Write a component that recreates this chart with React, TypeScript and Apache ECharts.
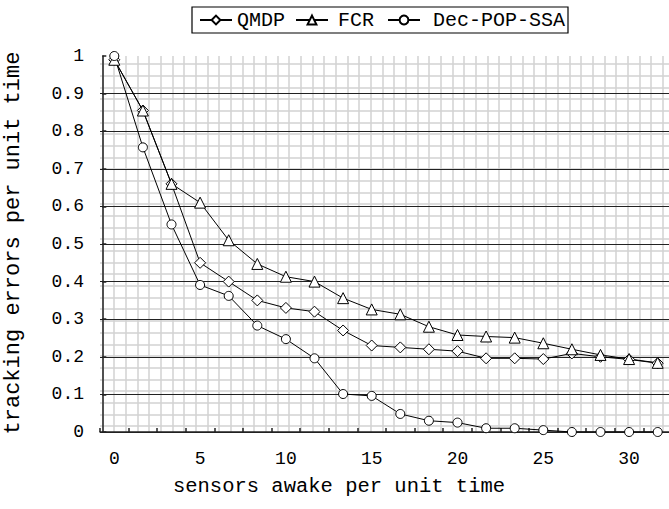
import React, { useEffect, useRef } from "react";
import * as echarts from "echarts";

const sensorsAwake = ["0", "1.67", "3.33", "5", "6.67", "8.33", "10", "11.67", "13.33", "15", "16.67", "18.33", "20", "21.67", "23.33", "25", "26.67", "28.33", "30", "31.67"];
const qmdp = [0.99, 0.855, 0.66, 0.45, 0.40, 0.35, 0.33, 0.32, 0.27, 0.23, 0.225, 0.22, 0.215, 0.196, 0.196, 0.194, 0.209, 0.2, 0.193, 0.183];
const fcr = [0.99, 0.855, 0.66, 0.61, 0.51, 0.447, 0.413, 0.4, 0.356, 0.326, 0.313, 0.28, 0.258, 0.254, 0.251, 0.236, 0.22, 0.205, 0.194, 0.184];
const decPopSsa = [1.0, 0.757, 0.552, 0.391, 0.362, 0.283, 0.247, 0.196, 0.101, 0.096, 0.048, 0.03, 0.025, 0.01, 0.01, 0.005, 0, 0, 0, 0];
const seriesNames = ["QMDP", "FCR", "Dec-POP-SSA"];
const yTicks = { min: 0, max: 1, interval: 0.1 };

const FONT = "'Liberation Mono', 'Courier New', monospace";

export default function App() {
  const ref = useRef<HTMLDivElement>(null);
  useEffect(() => {
    if (!ref.current) return;
    const chart = echarts.init(ref.current, null, { renderer: "svg" });
    const mk = (name: string, data: number[], symbol: string, size: number) => ({
      name,
      type: "line",
      xAxisIndex: 0,
      yAxisIndex: 0,
      data,
      symbol,
      symbolSize: size,
      showAllSymbol: true,
      z: 5,
      lineStyle: { color: "#000", width: 1 },
      itemStyle: { color: "#fff", borderColor: "#000", borderWidth: 1 },
    });
    const legendBase = {
      top: 10,
      padding: 0,
      itemWidth: 32,
      itemHeight: 11,
      textStyle: { fontFamily: FONT, fontSize: 20, color: "#000" },
    };
    chart.setOption({
      animation: false,
      backgroundColor: "#fff",
      legend: [
        { ...legendBase, left: 199, data: [seriesNames[0]] },
        { ...legendBase, left: 295, data: [seriesNames[1]], textStyle: { ...legendBase.textStyle, padding: [0, 0, 0, 5] } },
        { ...legendBase, left: 387, data: [seriesNames[2]], textStyle: { ...legendBase.textStyle, padding: [0, 0, 0, 8] } },
      ],
      grid: { left: 100, top: 56, right: -3, bottom: 77, outerBoundsMode: "none", containLabel: false },
      xAxis: [
        {
          type: "category",
          data: sensorsAwake,
          boundaryGap: true,
          z: 2,
          axisLine: { show: true, lineStyle: { color: "#222", width: 1.5 } },
          axisTick: { show: true, inside: true, length: 4, interval: 0, lineStyle: { color: "#222", width: 1.5 } },
          axisLabel: {
            interval: 2,
            margin: 18,
            fontFamily: FONT,
            fontSize: 18,
            color: "#000",
            formatter: (v: string) => String(Math.round(Number(v))),
          },
          splitLine: { show: false },
        },
        {
          type: "value",
          position: "top",
          min: -0.197,
          max: 48.8,
          splitNumber: 49,
          z: 0,
          axisLine: { show: false },
          axisTick: { show: false },
          axisLabel: { show: false },
          splitLine: { show: true, showMinLine: false, showMaxLine: false, lineStyle: { color: "#d2d2d2", width: 1.5 } },
        },
      ],
      yAxis: [
        {
          type: "value",
          min: yTicks.min,
          max: yTicks.max,
          interval: yTicks.interval,
          z: 2,
          axisLine: { show: true, lineStyle: { color: "#222", width: 1.5 } },
          axisTick: { show: true, inside: true, length: 4, lineStyle: { color: "#222", width: 1.5 } },
          axisLabel: { margin: 16, fontFamily: FONT, fontSize: 18, color: "#000" },
          splitLine: { show: true, showMaxLine: false, lineStyle: { color: "#222", width: 1.2 } },
        },
        {
          type: "value",
          position: "right",
          min: -0.514,
          max: 31.69,
          splitNumber: 32,
          z: 0,
          axisLine: { show: false },
          axisTick: { show: false },
          axisLabel: { show: false },
          splitLine: { show: true, showMinLine: false, showMaxLine: false, lineStyle: { color: "#d2d2d2", width: 1.5 } },
        },
      ],
      graphic: [
        {
          type: "rect",
          shape: { x: 192, y: 7, width: 376, height: 26 },
          style: { fill: "none", stroke: "#000", lineWidth: 1.2 },
          z: 10,
        },
        {
          type: "text",
          x: 339,
          y: 486,
          style: {
            text: "sensors awake per unit time",
            fontFamily: FONT,
            fontSize: 20.5,
            fill: "#000",
            textAlign: "center",
            textVerticalAlign: "middle",
          },
        },
        {
          type: "text",
          x: 13,
          y: 243,
          rotation: Math.PI / 2,
          style: {
            text: "tracking errors per unit time",
            fontFamily: FONT,
            fontSize: 22,
            fill: "#000",
            textAlign: "center",
            textVerticalAlign: "middle",
          },
        },
      ],
      series: [
        mk(seriesNames[0], qmdp, "diamond", 11),
        mk(seriesNames[1], fcr, "triangle", 11),
        mk(seriesNames[2], decPopSsa, "circle", 9),
      ],
    });
    return () => chart.dispose();
  }, []);
  return <div ref={ref} style={{ position: "absolute", left: 0, top: 0, width: 669, height: 509 }} />;
}
